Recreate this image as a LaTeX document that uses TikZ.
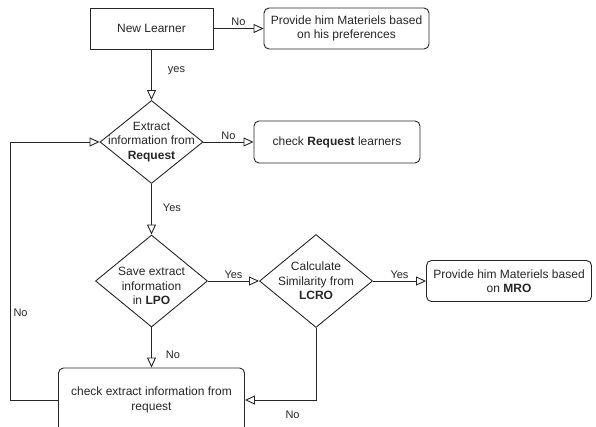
\documentclass[tikz,border=0pt]{standalone}
\usepackage{fontspec}
\setmainfont{Liberation Sans}
\usetikzlibrary{shapes.geometric, arrows.meta, positioning}

\begin{document}
\begin{tikzpicture}[font=\fontsize{12pt}{14.4pt}\selectfont, line width=0.9pt, color=black!85,
  box/.style = {draw, rectangle, minimum width=123pt, minimum height=41pt, align=center},
  rbox/.style = {draw, rectangle, rounded corners=5pt, minimum width=165pt, minimum height=41pt, align=center, inner sep=2pt},
  dec/.style = {draw, diamond, inner sep=0pt},
  txt/.style = {align=center, inner sep=0pt},
  arr/.style = {-{Triangle[open, length=10pt, width=9pt]}},
  lbl/.style = {font=\fontsize{11pt}{13pt}\selectfont, inner sep=2pt}]
\useasboundingbox (0,0) rectangle (596pt,-427pt);
\node[box] (new) at (151.5pt,-28.5pt) {New Learner};
\node[rbox] (pref) [right of=new, node distance=195pt] {Provide him Materiels based\\on his preferences};
\node[dec, minimum width=103pt, minimum height=83pt, label={[txt]center:{Extract\\information from\\\textbf{Request}}}] (extract) [below of=new, node distance=113.5pt] {};
\node[rbox, minimum width=166pt, minimum height=42pt] (reqcheck) [right of=extract, node distance=185.5pt] {check \textbf{Request} learners};
\node[dec, minimum width=112pt, minimum height=92pt, label={[txt, yshift=-5pt]center:{Save extract\\information\\in \textbf{LPO}}}] (save) [below of=extract, node distance=139pt] {};
\node[dec, minimum width=113pt, minimum height=93pt, label={[txt]center:{Calculate\\Similarity from\\\textbf{LCRO}}}] (calc) [right of=save, node distance=164.5pt] {};
\node[rbox] (mro) [right of=calc, node distance=193pt] {Provide him Materiels based\\on \textbf{MRO}};
\node[rbox, minimum width=186pt, minimum height=64pt] (recheck) [below of=save, node distance=119pt] {check extract information from\\request};
% yes / no branches
\draw[arr] (new) -- node[lbl, above] {No} (pref);
\draw[arr] (new) -- node[lbl, pos=0.41, right=14pt] {yes} (extract);
\draw[arr] (extract) -- node[lbl, above] {No} (reqcheck);
\draw[arr] (extract) -- node[lbl, pos=0.48, right=9pt] {Yes} (save);
\draw[arr] (save) -- node[lbl, above] {Yes} (calc);
\draw[arr] (calc) -- node[lbl, above] {Yes} (mro);
\draw[arr] (save) -- node[lbl, pos=0.68, right=12pt] {No} (recheck);
\draw[arr] (calc.south) |- node[lbl, pos=0.665, below=8pt] {No} (recheck.east);
\draw[arr] (recheck.west) -- ++(-48pt,0) |- node[lbl, pos=0.17, right=1pt] {No} (extract.west);
\end{tikzpicture}
\end{document}
